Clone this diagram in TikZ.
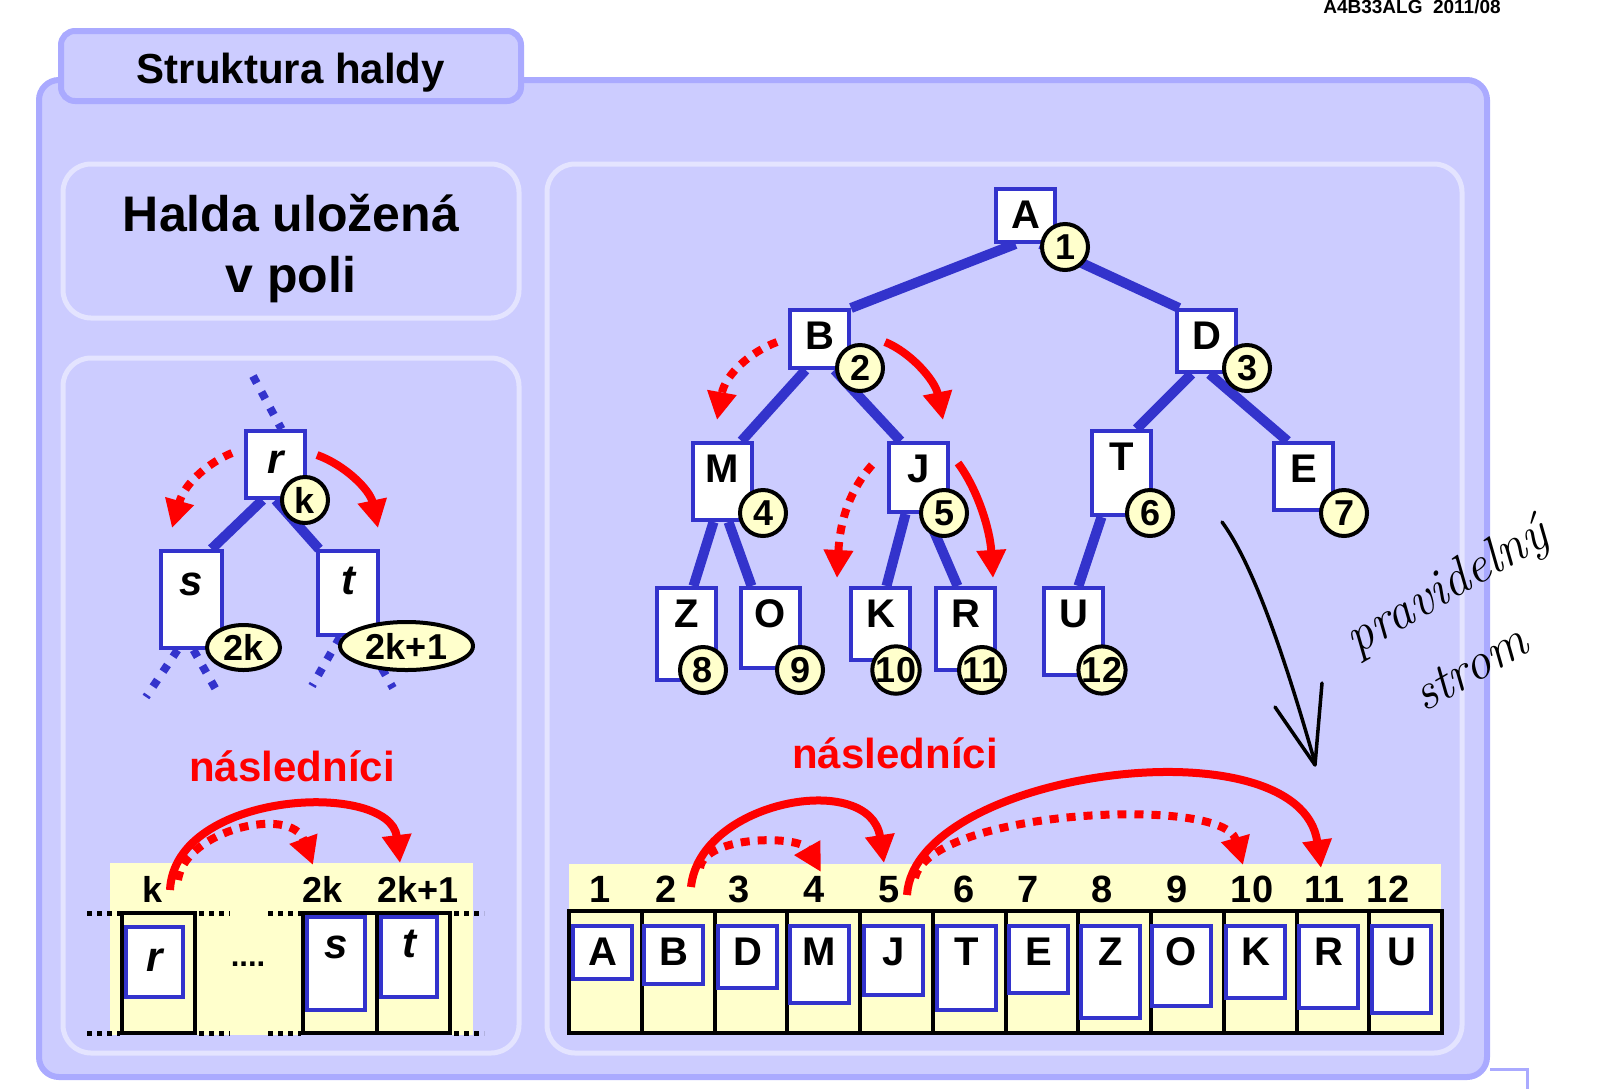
\documentclass[tikz,border=0pt]{standalone}
\usepackage{fontspec}
\newfontfamily\arialf{Liberation Sans}
\usetikzlibrary{arrows.meta,shapes.geometric}
\pgfdeclarelayer{bg}
\pgfdeclarelayer{edges}
\pgfsetlayers{bg,edges,main}
\definecolor{panel}{HTML}{CCCCFF}
\definecolor{panelb}{HTML}{AAAAFF}
\definecolor{innerb}{HTML}{E4E4FF}
\definecolor{hblue}{HTML}{3333CC}
\definecolor{ylw}{HTML}{FFFFCC}
\begin{document}
\begin{tikzpicture}[x=1pt,y=-1pt,
 tbox/.style={draw=hblue,line width=4pt,fill=white,anchor=north west,inner sep=0pt,minimum width=59pt,text height=39pt,font=\arialf\bfseries\fontsize{40}{40}\selectfont},
 ibox/.style={draw=hblue,line width=4pt,fill=white,anchor=north west,inner sep=0pt,font=\arialf\bfseries\itshape\fontsize{42}{42}\selectfont},
 numc/.style={circle,draw=black,line width=4pt,fill=ylw,minimum size=46pt,inner sep=0pt,font=\arialf\bfseries\fontsize{36}{36}\selectfont},
 numell/.style={ellipse,draw=black,line width=4pt,fill=ylw,inner sep=0pt,font=\arialf\bfseries\fontsize{36}{36}\selectfont},
 treeedge/.style={draw=hblue,line width=10pt},
 bdots/.style={draw=hblue,line width=8pt,dash pattern=on 8pt off 10pt},
 rarr/.style={draw=red,line width=8pt,-{Triangle[width=28pt,length=28pt]}},
 rdots/.style={rarr,dash pattern=on 9pt off 8pt},
 lbl/.style={anchor=base,inner sep=0pt,font=\arialf\bfseries\fontsize{38}{38}\selectfont},
 blk/.style={draw=black,line width=4pt},
 blkdots/.style={draw=black,line width=5pt,dash pattern=on 5pt off 5pt},
 outerp/.style={draw=panelb,line width=6pt,fill=panel,rounded corners=20pt},
 innerp/.style={draw=innerb,line width=5pt,fill=panel,rounded corners=28pt},
 redtxt/.style={anchor=base,inner sep=0pt,text=red,font=\arialf\bfseries\fontsize{42}{42}\selectfont},
 hand/.style={inner sep=0pt,rotate=30,font=\itshape\fontsize{52}{52}\selectfont}
]
\useasboundingbox (0,0) rectangle (1600,1088);

\begin{pgfonlayer}{bg}
\fill[white] (0,0) rectangle (1600,1088);
\draw[outerp] (39,80) rectangle (1487,1077);
\draw[outerp,rounded corners=14pt] (61,31) rectangle (521,101);
\draw[innerp] (63,164) rectangle (519,318);
\draw[innerp] (63,358) rectangle (519,1053);
\draw[innerp] (547,164) rectangle (1462,1053);
\draw[panelb,line width=3pt] (1490,1069) -- (1527,1069) -- (1527,1090);
\end{pgfonlayer}

% header and titles
\node[anchor=base,inner sep=0pt,font=\arialf\bfseries\fontsize{19}{19}\selectfont] (hdr) at (1412,13) {A4B33ALG\ \ 2011/08};
\node[anchor=base,inner sep=0pt,font=\arialf\bfseries\fontsize{42}{42}\selectfont] (title) at (291,83) {Struktura haldy};
\node[anchor=base,inner sep=0pt,font=\arialf\bfseries\fontsize{50}{50}\selectfont] (h1) at (291,231) {Halda uložená};
\node[anchor=base,inner sep=0pt,font=\arialf\bfseries\fontsize{50}{50}\selectfont] (h2) at (291,292) {v poli};

% ---------- left tree ----------
\coordinate (rtop) at (253,376);
\coordinate (sbl) at (146,697);
\coordinate (sbr) at (219,695);
\coordinate (tbl) at (312,686);
\coordinate (tbr) at (393,688);
\node[ibox,minimum width=59pt,text height=42pt,text depth=25pt] (r) at (244,429) {r};
\node[ibox,minimum width=61pt,text height=44pt,text depth=53pt] (s) at (159,549) {s};
\node[ibox,minimum width=60pt,text height=43pt,text depth=41pt] (t) at (316,549) {t};
\begin{pgfonlayer}{edges}
\draw[treeedge] ([xshift=-13pt]r.south) -- ([xshift=20pt]s.north);
\draw[treeedge] (r.south) -- ([xshift=-29pt]t.north);
\draw[bdots] (rtop) -- ([xshift=6pt]r.north);
\draw[bdots] ([xshift=-14pt]s.south) -- (sbl);
\draw[bdots] ([xshift=2pt]s.south) -- (sbr);
\draw[bdots] ([xshift=-8pt]t.south) -- (tbl);
\draw[bdots] ([xshift=16pt]t.south) -- (tbr);
\end{pgfonlayer}
\node[numc] (k) at (305,500) {k};
\node[numell,minimum width=73pt,minimum height=45pt] (e2k) at (243.5,647.5) {2k};
\node[numell,minimum width=133pt,minimum height=48pt] (e2k1) at (406.5,646) {2k+1};
\coordinate (rl) at (232,453);
\coordinate (sl) at (172,528);
\coordinate (rr) at (317,455);
\coordinate (tr) at (378,528);
\draw[rdots] (rl) .. controls (210,462) and (185,482) .. (sl);
\draw[rarr] (rr) .. controls (345,465) and (370,490) .. (tr);

\node[redtxt] (nasl1) at (292,781) {následníci};

% ---------- left array ----------
\fill[ylw] (110,863) rectangle (473,1035);
\draw[blk] (122,913) rectangle (195,1033);
\draw[blk] (303,913) rectangle (450,1033);
\draw[blk] (377,913) -- (377,1033);
\foreach \yy in {913,1033}{
 \draw[blkdots] (87,\yy) -- (120,\yy);
 \draw[blkdots] (199,\yy) -- (230,\yy);
 \draw[blkdots] (268,\yy) -- (301,\yy);
 \draw[blkdots] (454,\yy) -- (484,\yy);
}
\node[ibox,minimum width=57pt,text height=44pt,text depth=26pt] (ar) at (124,925) {r};
\node[ibox,minimum width=58pt,text height=41pt,text depth=52pt] (as) at (305,915) {s};
\node[ibox,minimum width=56pt,text height=40pt,text depth=40pt] (at) at (379,915) {t};
\node[anchor=base,inner sep=0pt,font=\arialf\bfseries\fontsize{31}{31}\selectfont] (dots) at (248,966) {....};
\node[lbl,font=\arialf\bfseries\fontsize{36}{36}\selectfont] (lk) at (153,902) {k};
\node[lbl,font=\arialf\bfseries\fontsize{36}{36}\selectfont] (l2k) at (323,902) {2k};
\node[lbl,font=\arialf\bfseries\fontsize{36}{36}\selectfont] (l2k1) at (418,902) {2k+1};
\coordinate (ka) at (170,890);
\coordinate (kb) at (178,880);
\coordinate (s2k) at (313,865);
\coordinate (s2k1) at (400,863);
\draw[rarr] (ka) .. controls (175,790) and (390,780) .. (s2k1);
\draw[rdots] (kb) .. controls (185,830) and (291,805) .. (s2k);

% ---------- right tree ----------
\node[tbox,text depth=14pt] (A) at (994,187) {A};
\node[tbox,text depth=19pt] (B) at (788,308) {B};
\node[tbox,text depth=23pt] (D) at (1175,308) {D};
\node[tbox,text depth=38pt] (M) at (691,441) {M};
\node[tbox,text depth=30pt] (J) at (887,441) {J};
\node[tbox,text depth=45pt] (T) at (1090,429) {T};
\node[tbox,text depth=28pt] (E) at (1272,441) {E};
\node[tbox,text depth=53pt] (Z) at (655,586) {Z};
\node[tbox,text depth=41pt] (O) at (739,586) {O};
\node[tbox,text depth=33pt] (K) at (849,586) {K};
\node[tbox,text depth=43pt] (R) at (934,586) {R};
\node[tbox,text depth=48pt] (U) at (1042,586) {U};
\begin{pgfonlayer}{edges}
\draw[treeedge] ([xshift=-10pt]A.south) -- (B.north east);
\draw[treeedge] ([xshift=15pt]A.south) -- ([xshift=4pt]D.north west);
\draw[treeedge] ([xshift=-14pt]B.south) -- ([xshift=19pt]M.north);
\draw[treeedge] ([xshift=15pt]B.south) -- ([xshift=-18pt]J.north);
\draw[treeedge] ([xshift=-9pt]M.south) -- ([xshift=7pt]Z.north);
\draw[treeedge] ([xshift=6pt]M.south) -- ([xshift=-19pt]O.north);
\draw[treeedge] ([xshift=-13pt]J.south) -- ([xshift=6pt]K.north);
\draw[treeedge] ([xshift=8pt]J.south) -- ([xshift=-8pt]R.north);
\draw[treeedge] ([xshift=-15pt]D.south) -- ([xshift=15pt]T.north);
\draw[treeedge] ([xshift=3pt]D.south) -- ([xshift=-16pt]E.north);
\draw[treeedge] ([xshift=-20pt]T.south) -- ([xshift=5pt]U.north);
\end{pgfonlayer}
\node[numc] (c1) at (1065,247) {1};
\node[numc] (c2) at (860,368) {2};
\node[numc] (c3) at (1247,368) {3};
\node[numc] (c4) at (763,513) {4};
\node[numc] (c5) at (944,513) {5};
\node[numc] (c6) at (1150,513) {6};
\node[numc] (c7) at (1344,513) {7};
\node[numc] (c8) at (703,670) {8};
\node[numc] (c9) at (800,670) {9};
\node[numc] (c10) at (896,670) {10};
\node[numc] (c11) at (982,670) {11};
\node[numc] (c12) at (1102,670) {12};

\coordinate (bl) at (777,342);
\coordinate (ml) at (717,420);
\coordinate (br) at (885,342);
\coordinate (jr) at (943,420);
\coordinate (jl) at (872,465);
\coordinate (kl) at (837,578);
\coordinate (jr2) at (958,463);
\coordinate (rr2) at (993,578);
\draw[rdots] (bl) .. controls (750,352) and (725,375) .. (ml);
\draw[rarr] (br) .. controls (910,352) and (935,380) .. (jr);
\draw[rdots] (jl) .. controls (850,490) and (840,520) .. (kl);
\draw[rarr] (jr2) .. controls (978,490) and (990,530) .. (rr2);

\node[redtxt] (nasl2) at (895,768) {následníci};

% ---------- right array ----------
\fill[ylw] (569,864) rectangle (1441,1033);
\draw[blk] (569,911) rectangle (1442,1033);
\foreach \i in {1,...,11} \draw[blk] (569+72.75*\i,911) -- (569+72.75*\i,1033);
\node[tbox,text depth=14pt] (aA) at (571,924) {A};
\node[tbox,text depth=19pt] (aB) at (642,924) {B};
\node[tbox,text depth=23pt] (aD) at (716,924) {D};
\node[tbox,text depth=38pt] (aM) at (788,924) {M};
\node[tbox,text depth=30pt] (aJ) at (862,924) {J};
\node[tbox,text depth=45pt] (aT) at (935,924) {T};
\node[tbox,text depth=28pt] (aE) at (1007,924) {E};
\node[tbox,text depth=53pt] (aZ) at (1079,924) {Z};
\node[tbox,text depth=41pt] (aO) at (1150,924) {O};
\node[tbox,text depth=33pt] (aK) at (1224,924) {K};
\node[tbox,text depth=43pt] (aR) at (1297,924) {R};
\node[tbox,text depth=48pt] (aU) at (1370,924) {U};
\node[lbl] (i1) at (600,902) {1};
\node[lbl] (i2) at (666,902) {2};
\node[lbl] (i3) at (739,902) {3};
\node[lbl] (i4) at (814,902) {4};
\node[lbl] (i5) at (889,902) {5};
\node[lbl] (i6) at (964,902) {6};
\node[lbl] (i7) at (1028,902) {7};
\node[lbl] (i8) at (1102,902) {8};
\node[lbl] (i9) at (1177,902) {9};
\node[lbl] (i10) at (1252,902) {10};
\node[lbl] (i11) at (1325,902) {11};
\node[lbl] (i12) at (1388,902) {12};
\coordinate (p2a) at (691,887);
\coordinate (p2b) at (700,868);
\coordinate (p4) at (821,872);
\coordinate (p5) at (884,863);
\coordinate (p5a) at (907,895);
\coordinate (p5b) at (915,878);
\coordinate (p10) at (1243,865);
\coordinate (p11) at (1321,868);
\draw[rarr] (p2a) .. controls (700,800) and (870,770) .. (p5);
\draw[rdots] (p2b) .. controls (705,835) and (800,835) .. (p4);
\draw[rarr] (p5a) .. controls (915,770) and (1300,720) .. (p11);
\draw[rdots] (p5b) .. controls (930,810) and (1223,795) .. (p10);

% ---------- handwriting ----------
\draw[black,line width=3.5pt,line cap=round] (1222,522) .. controls (1250,560) and (1280,640) .. (1315,763);
\draw[black,line width=3.5pt,line cap=round,line join=round] (1275,707) -- (1315,765) .. controls (1318,730) .. (1322,683);
\node[hand] (hw1) at (1448,588) {pravidelný};
\node[hand] (hw2) at (1470,668) {strom};
\end{tikzpicture}
\end{document}
